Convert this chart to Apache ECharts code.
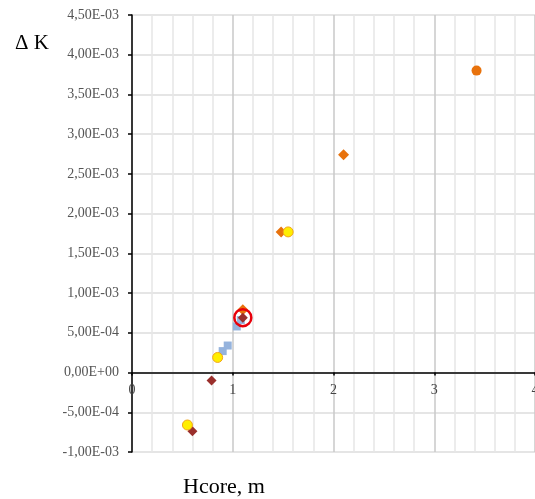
<!DOCTYPE html>
<html><head><meta charset="utf-8">
<script src="https://cdn.jsdelivr.net/npm/echarts@6/dist/echarts.min.js"></script>
<style>html,body{margin:0;padding:0;background:#fff;overflow:hidden}#c{width:535px;height:499px}</style>
</head><body><div id="c"></div>
<script>
// Data (x = Hcore, m; y = ΔK)
const blueSquares = [[0.90, 0.27e-3], [0.95, 0.34e-3], [1.04, 0.58e-3], [1.08, 0.66e-3]];
const orangeDiamonds = [[2.10, 2.74e-3], [1.48, 1.77e-3], [1.10, 0.79e-3]];
const brownDiamonds = [[1.10, 0.69e-3], [0.79, -0.10e-3], [0.60, -0.74e-3]];
const yellowCircles = [[1.55, 1.77e-3], [0.85, 0.19e-3], [0.55, -0.66e-3]];
const orangeCircles = [[3.42, 3.80e-3]];
const highlighted = [[1.10, 0.69e-3]];
const xTicks = [0, 1, 2, 3, 4];
const yMin = -1.0e-3, yMax = 4.5e-3, yStep = 0.5e-3;

function fmtY(v) {
  if (Math.abs(v) < 1e-12) return '0,00E+00';
  let s = v.toExponential(2);
  let [m, e] = s.split('e');
  let sign = e[0] === '-' ? '-' : '+';
  let ex = e.replace(/^[+-]/, '');
  if (ex.length < 2) ex = '0' + ex;
  return m.replace('.', ',') + 'E' + sign + ex;
}

const W = 535, H = 499, gTop = 15, gBottom = 47;
const gH = H - gTop - gBottom;
// x axis is drawn at y = 0: shift it up from the grid bottom by the zero position
const zeroOffset = -gH * (0 - yMin) / (yMax - yMin);

const chart = echarts.init(document.getElementById('c'), null, {renderer: 'canvas', width: W, height: H});
chart.setOption({
  animation: false,
  backgroundColor: '#fff',
  grid: {left: 132, right: 0, top: gTop, bottom: gBottom, outerBoundsMode: 'none', containLabel: false},
  graphic: [
    {type: 'text', left: 15, top: 33, style: {text: 'Δ K', font: '21px "Liberation Serif", serif', fill: '#000'}},
    {type: 'text', left: 183, top: 476, style: {text: 'Hcore, m', font: '22px "Liberation Serif", serif', fill: '#000'}}
  ],
  xAxis: {
    type: 'value', min: xTicks[0], max: xTicks[xTicks.length - 1], interval: 1,
    offset: zeroOffset,
    axisLine: {onZero: false, lineStyle: {color: '#000', width: 1.5}},
    axisTick: {show: true, inside: false, length: 3, lineStyle: {color: '#000', width: 1.5}},
    axisLabel: {color: '#444', fontFamily: 'Liberation Serif', fontSize: 14, margin: 11,
      formatter: v => String(v)},
    splitLine: {show: true, lineStyle: {color: '#c8c8c8', width: 1.5}},
    minorTick: {show: false, splitNumber: 5},
    minorSplitLine: {show: true, lineStyle: {color: '#e6e6e6', width: 1.5}}
  },
  yAxis: {
    type: 'value', min: yMin, max: yMax, interval: yStep,
    axisLine: {show: true, onZero: false, lineStyle: {color: '#000', width: 1.5}},
    axisTick: {show: true, inside: false, length: 4, lineStyle: {color: '#000', width: 1.5}},
    axisLabel: {color: '#555', fontFamily: 'Liberation Serif', fontSize: 14, margin: 13, formatter: fmtY},
    splitLine: {show: true, lineStyle: {color: '#dcdcdc', width: 1.5}}
  },
  series: [
    {type: 'scatter', data: blueSquares, symbol: 'rect', symbolSize: 8,
      itemStyle: {color: '#95b3dd', opacity: 1}},
    {type: 'scatter', data: orangeDiamonds, symbol: 'diamond', symbolSize: 11,
      itemStyle: {color: '#e8720c', opacity: 1}},
    {type: 'scatter', data: brownDiamonds, symbol: 'diamond', symbolSize: 10,
      itemStyle: {color: '#9a2f2c', opacity: 1}},
    {type: 'scatter', data: yellowCircles, symbol: 'circle', symbolSize: 10,
      itemStyle: {color: '#ffee00', borderColor: '#f2a51a', borderWidth: 1, opacity: 1}},
    {type: 'scatter', data: orangeCircles, symbol: 'circle', symbolSize: 10,
      itemStyle: {color: '#e8720c', opacity: 1}},
    {type: 'scatter', data: highlighted, symbol: 'circle', symbolSize: 17,
      itemStyle: {color: 'rgba(0,0,0,0)', borderColor: '#e8000b', borderWidth: 2.5, opacity: 1}}
  ]
});
</script></body></html>
